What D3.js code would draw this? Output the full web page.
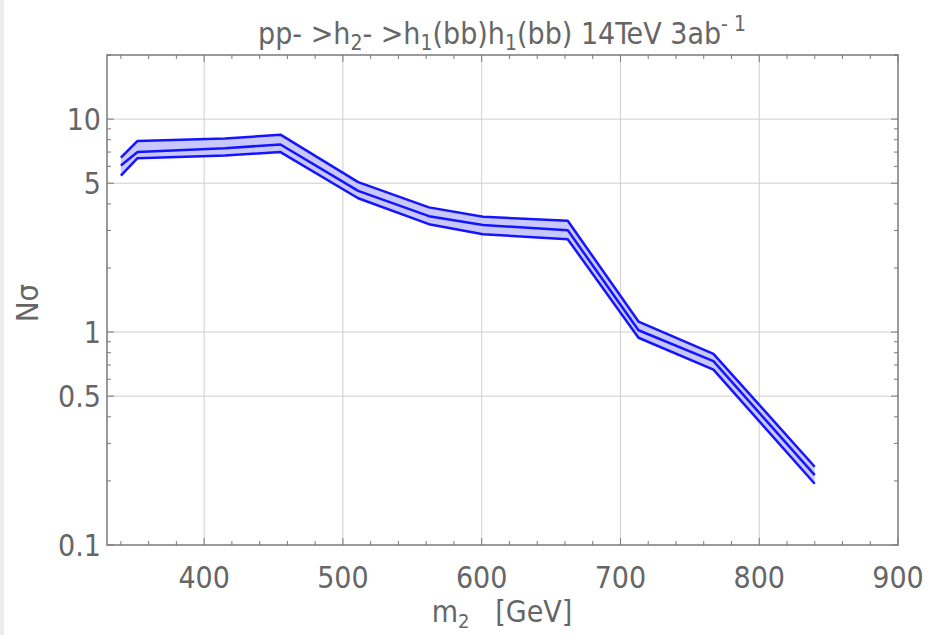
<!DOCTYPE html>
<html>
<head>
<meta charset="utf-8">
<script src="https://cdn.jsdelivr.net/npm/d3@7"></script>
<style>
  html, body { margin: 0; padding: 0; background: #fff; }
  svg { display: block; }
  text { font-family: "DejaVu Sans Condensed", "DejaVu Sans", sans-serif; fill: #666; }
</style>
</head>
<body>
<svg id="chart" width="927" height="635"></svg>
<script>
// Heavy Higgs mass points (GeV) and significance band
const masses  = [340, 352, 415, 455, 511, 562, 601, 662, 713, 767, 840];
const central = [6.05, 7.0, 7.3, 7.6, 4.6, 3.5, 3.18, 3.01, 1.02, 0.73, 0.213];
const upper   = [6.6, 7.9, 8.1, 8.45, 5.06, 3.85, 3.48, 3.33, 1.12, 0.79, 0.233];
const lower   = [5.43, 6.55, 6.75, 7.0, 4.25, 3.21, 2.88, 2.73, 0.94, 0.666, 0.194];

const xTicks = [400, 500, 600, 700, 800, 900];
const yTicks = [0.1, 0.5, 1, 5, 10];
const yTickLabels = ["0.1", "0.5", "1", "5", "10"];

const svg = d3.select("#chart");
const W = 927, H = 635;
const m = { left: 107, right: 898, top: 55, bottom: 545 };

// faint strip along the left edge of the canvas
svg.append("rect").attr("x", 0).attr("y", 0).attr("width", 4).attr("height", H).attr("fill", "#ececec");

const x = d3.scaleLinear().domain([330, 900]).range([m.left, m.right]);
const y = d3.scaleLog().domain([0.1, 20]).range([m.bottom, m.top]);

// grid
const grid = svg.append("g").attr("stroke", "#cfcfcf").attr("stroke-width", 1);
xTicks.filter(v => v < 900).forEach(v => {
  grid.append("line").attr("x1", x(v)).attr("x2", x(v)).attr("y1", m.top).attr("y2", m.bottom);
});
yTicks.filter(v => v > 0.1).forEach(v => {
  grid.append("line").attr("x1", m.left).attr("x2", m.right).attr("y1", y(v)).attr("y2", y(v));
});

// band and lines
const pts = masses.map((d, i) => ({ m: d, c: central[i], u: upper[i], l: lower[i] }));
const area = d3.area().x(d => x(d.m)).y0(d => y(d.l)).y1(d => y(d.u));
svg.append("path").datum(pts).attr("d", area).attr("fill", "#c8c8ff");
const lineOf = key => d3.line().x(d => x(d.m)).y(d => y(d[key]));
["u", "c", "l"].forEach(k => {
  svg.append("path").datum(pts).attr("d", lineOf(k))
    .attr("fill", "none").attr("stroke", "#1414ff").attr("stroke-width", 2.5)
    .attr("stroke-linejoin", "round");
});

// frame with inward ticks on all sides
const frame = svg.append("g").attr("stroke", "#7a7a7a");
frame.append("rect").attr("x", m.left).attr("y", m.top)
  .attr("width", m.right - m.left).attr("height", m.bottom - m.top)
  .attr("fill", "none").attr("stroke-width", 1.5);

const xMinor = d3.range(340, 900, 20).filter(v => v % 100 !== 0);
xTicks.forEach(v => {
  frame.append("line").attr("x1", x(v)).attr("x2", x(v)).attr("y1", m.bottom).attr("y2", m.bottom - 7);
  frame.append("line").attr("x1", x(v)).attr("x2", x(v)).attr("y1", m.top).attr("y2", m.top + 7);
});
xMinor.forEach(v => {
  frame.append("line").attr("x1", x(v)).attr("x2", x(v)).attr("y1", m.bottom).attr("y2", m.bottom - 4);
  frame.append("line").attr("x1", x(v)).attr("x2", x(v)).attr("y1", m.top).attr("y2", m.top + 4);
});
const yMinor = [];
[0.1, 1, 10].forEach(dec => { for (let k = 1; k <= 9; k++) { const v = dec * k; if (v <= 20 && !yTicks.includes(+v.toFixed(3))) yMinor.push(v); } });
yMinor.push(20);
yTicks.forEach(v => {
  frame.append("line").attr("x1", m.left).attr("x2", m.left + 7).attr("y1", y(v)).attr("y2", y(v));
  frame.append("line").attr("x1", m.right).attr("x2", m.right - 7).attr("y1", y(v)).attr("y2", y(v));
});
yMinor.forEach(v => {
  frame.append("line").attr("x1", m.left).attr("x2", m.left + 4).attr("y1", y(v)).attr("y2", y(v));
  frame.append("line").attr("x1", m.right).attr("x2", m.right - 4).attr("y1", y(v)).attr("y2", y(v));
});

// tick labels
svg.append("g").selectAll("text").data(xTicks).join("text")
  .attr("x", d => x(d)).attr("y", 588).attr("text-anchor", "middle")
  .attr("font-size", 30).text(d => d);
svg.append("g").selectAll("text").data(yTicks).join("text")
  .attr("x", 101).attr("y", d => y(d) + 11).attr("text-anchor", "end")
  .attr("font-size", 30).text((d, i) => yTickLabels[i]);

// axis titles
const xl = svg.append("text").attr("x", 502).attr("y", 622).attr("text-anchor", "middle")
  .attr("font-size", 30).attr("xml:space", "preserve");
xl.append("tspan").text("m");
xl.append("tspan").attr("font-size", 20).attr("dy", 6).text("2");
xl.append("tspan").attr("dy", -6).text("   [GeV]");

svg.append("text").attr("transform", "translate(38,303) rotate(-90)")
  .attr("text-anchor", "middle").attr("font-size", 31).text("Nσ");

// title
const t = svg.append("text").attr("x", 502).attr("y", 44).attr("text-anchor", "middle")
  .attr("font-size", 30).attr("fill", "#5f5f5f").attr("xml:space", "preserve");
t.append("tspan").text("pp- >h");
t.append("tspan").attr("font-size", 21).attr("dy", 6).text("2");
t.append("tspan").attr("dy", -6).text("- >h");
t.append("tspan").attr("font-size", 21).attr("dy", 6).text("1");
t.append("tspan").attr("dy", -6).text("(bb)h");
t.append("tspan").attr("font-size", 21).attr("dy", 6).text("1");
t.append("tspan").attr("dy", -6).text("(bb) 14TeV 3ab");
t.append("tspan").attr("font-size", 21).attr("dy", -13).text("- 1");
</script>
</body>
</html>
